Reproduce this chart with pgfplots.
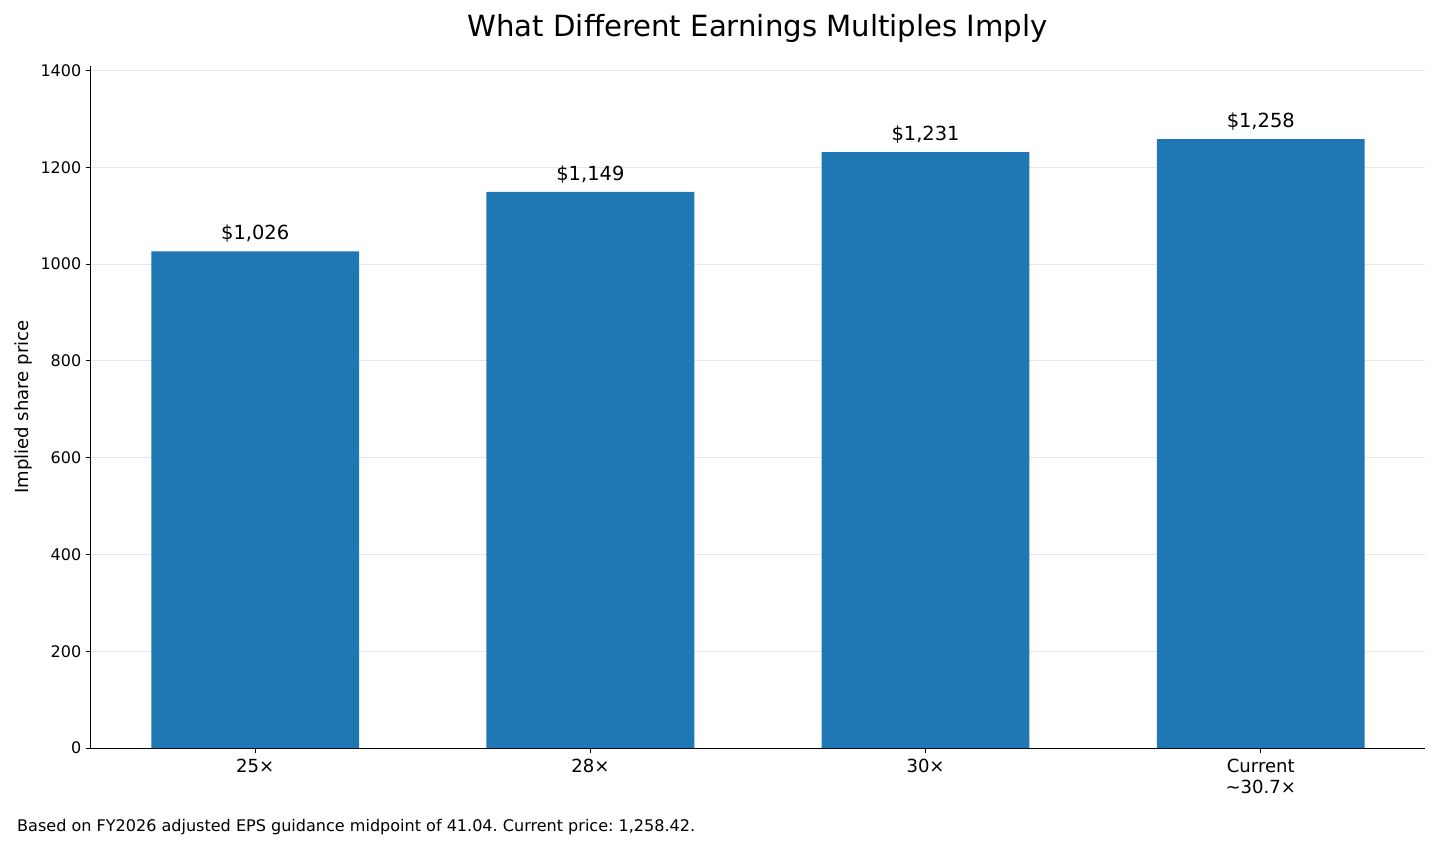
\documentclass[border=0pt]{standalone}
\usepackage{pgfplots}
\pgfplotsset{compat=1.18}
\usepackage{fontspec}
\setmainfont{DejaVu Sans}
\definecolor{barblue}{HTML}{1F77B4}
\definecolor{gridgray}{HTML}{E6E6E6}
\frenchspacing
\begin{document}
\begin{tikzpicture}
\path[use as bounding box] (0,0) rectangle (1036.8pt,612pt);
\begin{axis}[
  at={(65.5pt,73.4pt)}, anchor=south west,
  width=960.5pt, height=491pt, scale only axis,
  xmin=-0.49, xmax=3.49, ymin=0, ymax=1409,
  axis lines*=left,
  axis line style={line width=0.7pt, -},
  xtick={0,1,2,3},
  xticklabels={25×,28×,30×,{Current\\\textasciitilde30.7×}},
  xticklabel style={font=\fontsize{13}{15}\selectfont, align=center, yshift=-1pt},
  ytick={0,200,400,600,800,1000,1200,1400},
  yticklabel style={font=\fontsize{11.5}{13}\selectfont},
  /pgf/number format/assume math mode=true,
  /pgf/number format/1000 sep={},
  tick align=outside, tick pos=left,
  major tick length=3.5pt,
  tick style={black, line width=0.7pt},
  ymajorgrids, grid style={gridgray, line width=0.7pt},
  ylabel={Implied share price},
  ylabel style={font=\fontsize{13}{15}\selectfont, at={(axis description cs:0,0.5)}, anchor=south, yshift=38.5pt},
  clip=false,
]
\addplot[ybar, bar width=0.62, fill=barblue, draw=none,
  nodes near coords={\$\pgfmathprintnumber[fixed, 1000 sep={,}, precision=0]{\pgfplotspointmeta}},
  nodes near coords style={font=\fontsize{14}{16}\selectfont, anchor=south, yshift=3pt},
  point meta=y]
  coordinates {(0,1026) (1,1149) (2,1231) (3,1258)};
\end{axis}
\node[font=\fontsize{21}{25}\selectfont] at (545.5pt,591.5pt) {What Different Earnings Multiples Imply};
\node[font=\fontsize{11.55}{13}\selectfont, anchor=west, inner sep=0pt] at (12.2pt,16.8pt) {Based on FY2026 adjusted EPS guidance midpoint of 41.04. Current price: 1,258.42.};
\end{tikzpicture}
\end{document}
